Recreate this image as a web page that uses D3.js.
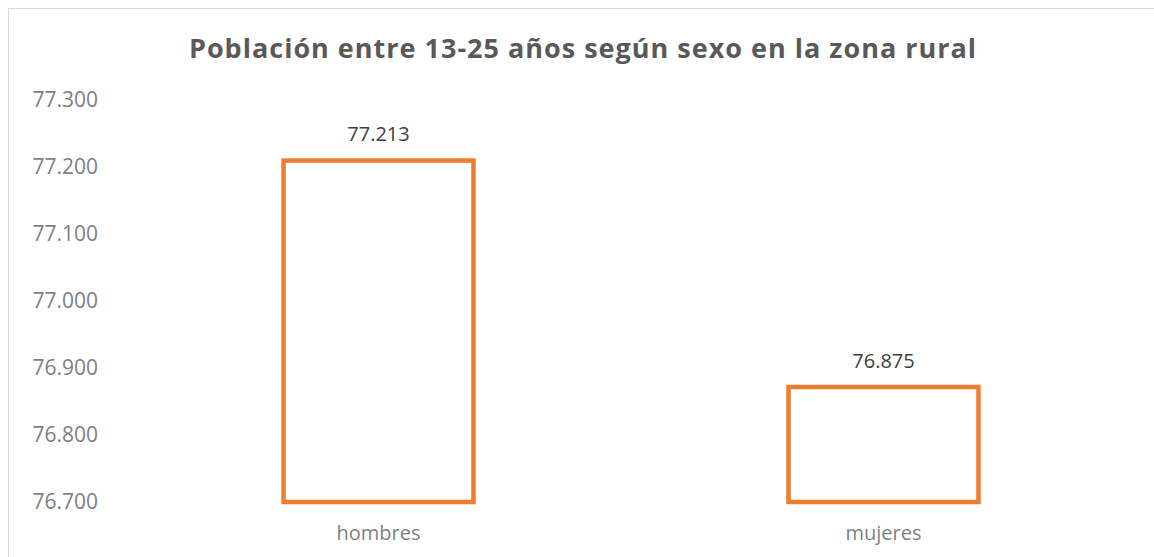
<!DOCTYPE html>
<html>
<head>
<meta charset="utf-8">
<script src="https://cdn.jsdelivr.net/npm/d3@7"></script>
<style>
  body { margin: 0; background: #fff; }
  svg { display: block; font-family: 'Open Sans', sans-serif; }
</style>
</head>
<body>
<div id="chart"></div>
<script>
// chart values
let categories = ['hombres', 'mujeres']
let values = [77.213, 76.875]
let yTicks = [76.7, 76.8, 76.9, 77.0, 77.1, 77.2, 77.3]
let title = 'Población entre 13-25 años según sexo en la zona rural'

let W = 1154
let H = 557

let margin = { top: 100, right: 18, bottom: 55, left: 126 }
let width = W - margin.left - margin.right
let height = 502 - margin.top

// Excel shows 77.213 with "." as thousands separator, so print as value*1000
let labelFmt = d => d3.format(',')(Math.round(d * 1000)).replace(/,/g, '.')

let svg = d3.select('#chart')
  .append('svg')
  .attr('width', W)
  .attr('height', H)

// outer chart border
svg.append('rect')
  .attr('x', 8.5)
  .attr('y', 8.5)
  .attr('width', W + 20)
  .attr('height', H + 20)
  .attr('fill', 'none')
  .attr('stroke', '#d9d9d9')
  .attr('stroke-width', 1)

svg.append('text')
  .attr('x', 583)
  .attr('y', 58)
  .attr('text-anchor', 'middle')
  .attr('font-size', 27)
  .attr('font-weight', 'bold')
  .attr('letter-spacing', 1)
  .attr('fill', '#595959')
  .text(title)

let g = svg.append('g')
  .attr('transform', 'translate(' + margin.left + ',' + margin.top + ')')

let x = d3.scaleBand()
  .domain(categories)
  .range([0, width])
  .paddingInner(0.615)
  .paddingOuter(0.3075)

let y = d3.scaleLinear()
  .domain([76.7, 77.3])
  .range([height, 0])

let yAxis = d3.axisLeft(y)
  .tickValues(yTicks)
  .tickSize(0)
  .tickPadding(0)
  .tickFormat(labelFmt)

let yg = g.append('g')
  .attr('transform', 'translate(-28,0)')
  .call(yAxis)
yg.select('.domain').remove()
yg.selectAll('text')
  .attr('font-size', 21)
  .attr('font-family', "'Open Sans', sans-serif")
  .attr('fill', '#7f7f7f')

let xAxis = d3.axisBottom(x).tickSize(0).tickPadding(0)
let xg = g.append('g')
  .attr('transform', 'translate(0,' + (height + 24) + ')')
  .call(xAxis)
xg.select('.domain').remove()
xg.selectAll('text')
  .attr('font-size', 20)
  .attr('font-family', "'Open Sans', sans-serif")
  .attr('fill', '#7f7f7f')

let sw = 4.5
g.selectAll('.bar')
  .data(values)
  .enter()
  .append('rect')
  .attr('class', 'bar')
  .attr('x', (d, i) => x(categories[i]) + sw / 2)
  .attr('y', d => y(d) + sw / 2)
  .attr('width', x.bandwidth() - sw)
  .attr('height', d => y(76.7) - y(d) - sw / 2)
  .attr('fill', '#fff')
  .attr('stroke', '#ed7d31')
  .attr('stroke-width', sw)

g.selectAll('.val')
  .data(values)
  .enter()
  .append('text')
  .attr('class', 'val')
  .attr('x', (d, i) => x(categories[i]) + x.bandwidth() / 2)
  .attr('y', d => y(d) - 17)
  .attr('text-anchor', 'middle')
  .attr('font-size', 20)
  .attr('fill', '#404040')
  .text(labelFmt)
</script>
</body>
</html>
